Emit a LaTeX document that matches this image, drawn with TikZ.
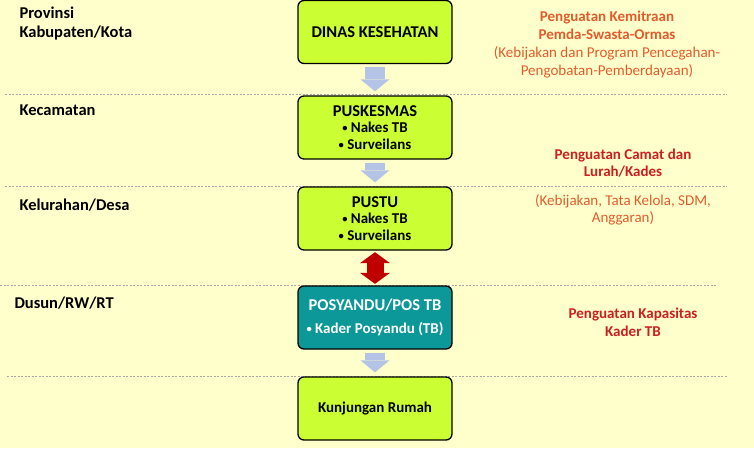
\documentclass[tikz,border=0pt]{standalone}
\usepackage{fontspec}
\setmainfont{Carlito}
\usetikzlibrary{arrows.meta}
\definecolor{bgyellow}{HTML}{FFFFCC}
\definecolor{limebox}{HTML}{CCFF33}
\definecolor{tealbox}{HTML}{0C9898}
\definecolor{flowblue}{HTML}{B4C4E6}
\definecolor{linkred}{HTML}{C00000}
\definecolor{noteorange}{HTML}{E35B2C}
\definecolor{notered}{HTML}{CC1F1F}
\newcommand{\tbbullet}{\raisebox{0.12ex}{\scalebox{0.7}{•}}\ }
\newcommand{\tbitem}[1]{{\fontsize{15}{16.5}\selectfont\tbbullet #1}}
\tikzset{
    levelbox/.style={
        draw=black, line width=1.3pt, rounded corners=6pt, fill=limebox,
        minimum width=154pt, minimum height=63pt, align=center, inner xsep=2pt,
        font=\bfseries\fontsize{16.5}{16.5}\selectfont
    },
    levelname/.style={anchor=west, align=left, font=\bfseries\fontsize{16.5}{19}\selectfont},
    note/.style={align=center, font=\fontsize{15}{18}\selectfont},
    separator/.style={draw=gray!70, line width=0.8pt, dash pattern=on 2pt off 1.5pt},
    flow/.style={
        draw=flowblue, line width=20pt, shorten <=3pt, shorten >=4pt,
        -{Triangle[length=12pt,width=29pt,line width=0pt]}
    },
    link/.style={
        draw=linkred, line width=17pt, shorten <=1.5pt, shorten >=1.5pt,
        {Triangle[length=11pt,width=30pt,line width=0pt]}-{Triangle[length=11pt,width=30pt,line width=0pt]}
    },
}
\begin{document}
\begin{tikzpicture}[x=1pt, y=-1pt]
    \fill[bgyellow] (0,0) rectangle (754,448);
    \useasboundingbox (0,0) rectangle (754,448);

    % garis pemisah tingkat
    \draw[separator] (5,94) -- (727,94);
    \draw[separator] (5,186) -- (727,186);
    \draw[separator] (0,285) -- (717,285);
    \draw[separator] (7,376) -- (727,376);

    % tingkat wilayah
    \node[levelname] (prov) at (16,24) {Provinsi\\Kabupaten/Kota};
    \node[levelname] (kec) at (16,110) {Kecamatan};
    \node[levelname] (kel) at (16,205) {Kelurahan/Desa};
    \node[levelname] (dusun) at (11,303) {Dusun/RW/RT};

    % kotak layanan
    \node[levelbox] (dinas) at (375,32) {DINAS KESEHATAN};
    \node[levelbox] (puskesmas) at (375,127.5) {PUSKESMAS\\\tbitem{Nakes TB}\\\tbitem{Surveilans}};
    \node[levelbox] (pustu) at (375,218.5) {PUSTU\\\tbitem{Nakes TB}\\\tbitem{Surveilans}};
    \node[levelbox, fill=tealbox, text=white] (posyandu) at (375,317.5) {POSYANDU/POS TB\\[7pt]\tbitem{Kader Posyandu (TB)}};
    \node[levelbox, font=\bfseries\fontsize{15}{15}\selectfont] (rumah) at (375,408.5) {Kunjungan Rumah};

    \draw[flow] (dinas) -- (puskesmas);
    \draw[flow] (puskesmas) -- (pustu);
    \draw[link] (pustu) -- (posyandu);
    \draw[flow] (posyandu) -- (rumah);

    % penguatan
    \node[note, text=noteorange] (mitra) at (607,45)
        {\textbf{Penguatan Kemitraan}\\\textbf{Pemda-Swasta-Ormas}\\(Kebijakan dan Program Pencegahan-\\Pengobatan-Pemberdayaan)};
    \node[note, text=notered, font=\bfseries\fontsize{15}{17}\selectfont] (camat) at (623,163.5) {Penguatan Camat dan\\Lurah/Kades};
    \node[note, text=noteorange, font=\fontsize{15}{17}\selectfont] (tatakelola) at (623,209.5) {(Kebijakan, Tata Kelola, SDM,\\Anggaran)};
    \node[note, text=notered, font=\bfseries\fontsize{15}{18}\selectfont] (kader) at (633,322) {Penguatan Kapasitas\\Kader TB};
\end{tikzpicture}
\end{document}
